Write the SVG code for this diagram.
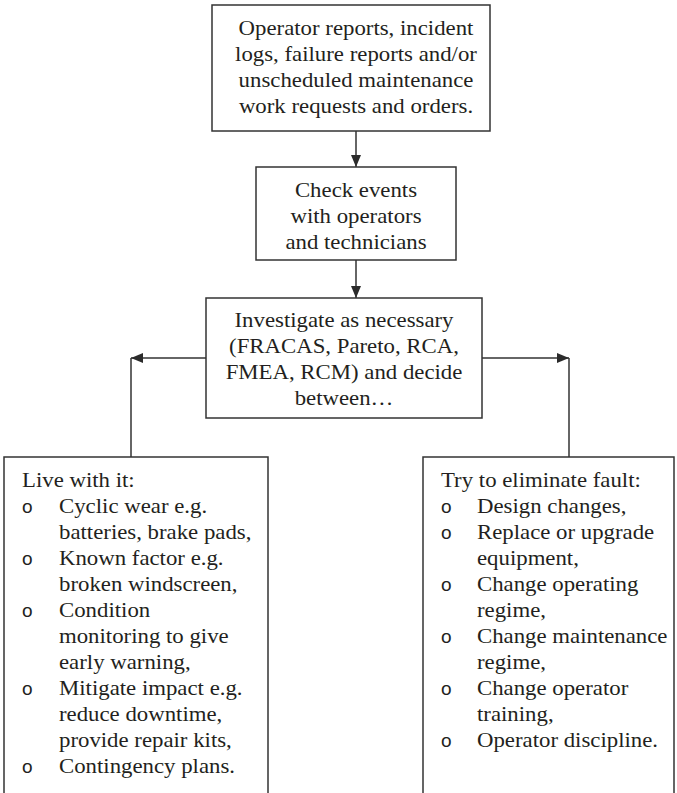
<svg xmlns="http://www.w3.org/2000/svg" width="677" height="793" viewBox="0 0 677 793">
<defs>
<marker id="ah" viewBox="0 0 12 10" refX="12" refY="5" markerWidth="12" markerHeight="10" markerUnits="userSpaceOnUse" orient="auto">
<path d="M0,0 L12,5 L0,10 Z" fill="#2b2b2b"/>
</marker>
<style>
.box{fill:#fff;stroke:#333;stroke-width:1.5}
.t{font-family:"Liberation Serif","Times New Roman",serif;font-size:20px;fill:#231f20}
.c{text-anchor:middle}
.b{font-family:"Liberation Sans",Arial,sans-serif;font-size:19px;fill:#231f20}
.ln{fill:none;stroke:#333;stroke-width:1.5}
</style>
</defs>
<rect width="677" height="793" fill="#fff"/>
<g id="connectors">
<line class="ln" x1="356" y1="131" x2="356" y2="167" marker-end="url(#ah)"/>
<line class="ln" x1="356" y1="260" x2="356" y2="298" marker-end="url(#ah)"/>
<line class="ln" x1="206" y1="358" x2="131" y2="358" marker-end="url(#ah)"/>
<line class="ln" x1="131" y1="358" x2="131" y2="457"/>
<line class="ln" x1="482" y1="358" x2="569" y2="358" marker-end="url(#ah)"/>
<line class="ln" x1="569" y1="358" x2="569" y2="457"/>
</g>
<g id="n1">
<rect class="box" x="212" y="5" width="278" height="126"/>
<g transform="translate(356,0) scale(1.14,1)">
<text class="t c" x="0" y="35">Operator reports, incident</text>
<text class="t c" x="0" y="61">logs, failure reports and/or</text>
<text class="t c" x="0" y="87">unscheduled maintenance</text>
<text class="t c" x="0" y="113">work requests and orders.</text>
</g>
</g>
<g id="n2">
<rect class="box" x="256" y="167" width="200" height="93"/>
<g transform="translate(356,0) scale(1.14,1)">
<text class="t c" x="0" y="197">Check events</text>
<text class="t c" x="0" y="223">with operators</text>
<text class="t c" x="0" y="249">and technicians</text>
</g>
</g>
<g id="n3">
<rect class="box" x="206" y="298" width="276" height="120"/>
<g transform="translate(344,0) scale(1.14,1)">
<text class="t c" x="0" y="327">Investigate as necessary</text>
<text class="t c" x="0" y="353">(FRACAS, Pareto, RCA,</text>
<text class="t c" x="0" y="379">FMEA, RCM) and decide</text>
<text class="t c" x="0" y="405">between…</text>
</g>
</g>
<g id="n4">
<path class="ln" d="M4,800 L4,457 L268,457 L268,800"/>
<text class="t" transform="translate(22,0) scale(1.14,1)" x="0" y="487">Live with it:</text>
<text class="b" x="22" y="513">o</text>
<text class="b" x="22" y="565">o</text>
<text class="b" x="22" y="617">o</text>
<text class="b" x="22" y="695">o</text>
<text class="b" x="22" y="773">o</text>
<g transform="translate(59,0) scale(1.14,1)">
<text class="t" x="0" y="513">Cyclic wear e.g.</text>
<text class="t" x="0" y="539">batteries, brake pads,</text>
<text class="t" x="0" y="565">Known factor e.g.</text>
<text class="t" x="0" y="591">broken windscreen,</text>
<text class="t" x="0" y="617">Condition</text>
<text class="t" x="0" y="643">monitoring to give</text>
<text class="t" x="0" y="669">early warning,</text>
<text class="t" x="0" y="695">Mitigate impact e.g.</text>
<text class="t" x="0" y="721">reduce downtime,</text>
<text class="t" x="0" y="747">provide repair kits,</text>
<text class="t" x="0" y="773">Contingency plans.</text>
</g>
</g>
<g id="n5">
<path class="ln" d="M423,800 L423,457 L674,457 L674,800"/>
<text class="t" transform="translate(441,0) scale(1.14,1)" x="0" y="487">Try to eliminate fault:</text>
<text class="b" x="441" y="513">o</text>
<text class="b" x="441" y="539">o</text>
<text class="b" x="441" y="591">o</text>
<text class="b" x="441" y="643">o</text>
<text class="b" x="441" y="695">o</text>
<text class="b" x="441" y="747">o</text>
<g transform="translate(477,0) scale(1.14,1)">
<text class="t" x="0" y="513">Design changes,</text>
<text class="t" x="0" y="539">Replace or upgrade</text>
<text class="t" x="0" y="565">equipment,</text>
<text class="t" x="0" y="591">Change operating</text>
<text class="t" x="0" y="617">regime,</text>
<text class="t" x="0" y="643">Change maintenance</text>
<text class="t" x="0" y="669">regime,</text>
<text class="t" x="0" y="695">Change operator</text>
<text class="t" x="0" y="721">training,</text>
<text class="t" x="0" y="747">Operator discipline.</text>
</g>
</g>
</svg>
